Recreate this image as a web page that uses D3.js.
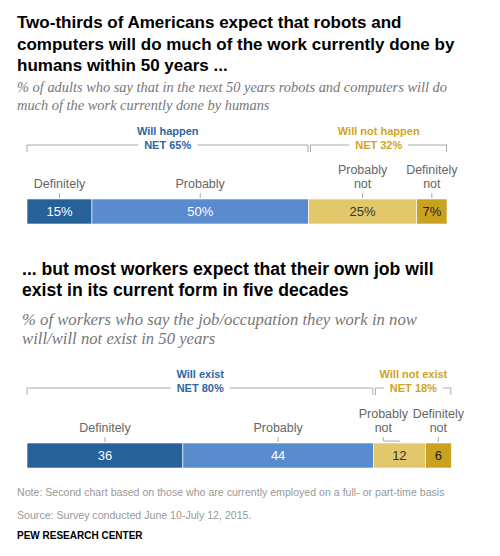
<!DOCTYPE html>
<html><head><meta charset="utf-8">
<script src="https://cdn.jsdelivr.net/npm/d3@7"></script>
<style>
body{margin:0;background:#fff;}
svg{display:block;}
</style></head>
<body><svg id="c" width="500" height="556"></svg>
<script>
// Data
const categories = ["Definitely", "Probably", "Probably not", "Definitely not"];
const chart1Values = [15, 50, 25, 7];
const chart2Values = [36, 44, 12, 6];
const chart1Nets = [{label: "Will happen", net: "NET 65%"}, {label: "Will not happen", net: "NET 32%"}];
const chart2Nets = [{label: "Will exist", net: "NET 80%"}, {label: "Will not exist", net: "NET 18%"}];
const chart1Fmt = v => v + "%";
const chart2Fmt = v => String(v);

const colors = ["#266199", "#5b8bcf", "#e2c86a", "#c9a21f"];
const labelColors = ["#fff", "#fff", "#333", "#222"];
const netColors = ["#2d66a5", "#cfa41e"];

const svg = d3.select("#c");
const sans = "'Liberation Sans', Arial, sans-serif";
const serif = "'Liberation Serif', 'Times New Roman', serif";

const x = d3.scaleLinear().domain([0, 100]).range([27, 460]);

function lines(g, arr, xpos, y0, lh, attrs) {
  arr.forEach((t, i) => {
    const tx = g.append("text").attr("x", xpos).attr("y", y0 + i * lh).text(t);
    for (const k in attrs) tx.attr(k, attrs[k]);
  });
}

// Titles
lines(svg, ["Two-thirds of Americans expect that robots and",
  "computers will do much of the work currently done by",
  "humans within 50 years ..."], 17, 28, 21.5,
  {"font-family": sans, "font-weight": "bold", "font-size": "17px", "fill": "#000"});
lines(svg, ["% of adults who say that in the next 50 years robots and computers will do",
  "much of the work currently done by humans"], 17, 92, 18,
  {"font-family": serif, "font-style": "italic", "font-size": "14.4px", "fill": "#777"});
lines(svg, ["... but most workers expect that their own job will",
  "exist in its current form in five decades"], 22, 275, 20.5,
  {"font-family": sans, "font-weight": "bold", "font-size": "17.6px", "fill": "#000"});
lines(svg, ["% of workers who say the job/occupation they work in now",
  "will/will not exist in 50 years"], 22, 325, 19,
  {"font-family": serif, "font-style": "italic", "font-size": "16.7px", "fill": "#777"});

function drawChart(values, nets, fmt, barY, barH, bracketY, netY, catY, gapBreak) {
  const g = svg.append("g");
  const cum = d3.cumsum(values);
  const segs = values.map((v, i) => ({v, i, x0: x(cum[i] - v), x1: x(cum[i])}));
  // bars
  g.selectAll("rect.bar").data(segs).enter().append("rect")
    .attr("x", d => d.x0).attr("y", barY)
    .attr("width", d => d.x1 - d.x0).attr("height", barH)
    .attr("fill", d => colors[d.i]).attr("stroke", "#fff").attr("stroke-width", 0.6);
  g.selectAll("text.val").data(segs).enter().append("text")
    .attr("x", d => (d.x0 + d.x1) / 2).attr("y", barY + barH / 2 + 4.5)
    .attr("text-anchor", "middle").attr("font-family", sans).attr("font-size", "13px")
    .attr("fill", d => labelColors[d.i]).text(d => fmt(d.v));
  // brackets
  const groups = [[segs[0].x0, segs[1].x1], [segs[2].x0 + 2, segs[3].x1]];
  groups.forEach((gr, k) => {
    const [a, b] = gr;
    const c = (a + b) / 2;
    g.append("text").attr("x", c).attr("y", netY - 14)
      .attr("text-anchor", "middle").attr("font-family", sans).attr("font-weight", "bold")
      .attr("font-size", "11px").attr("fill", netColors[k]).text(nets[k].label);
    const net = g.append("text").attr("x", c).attr("y", netY)
      .attr("text-anchor", "middle").attr("font-family", sans).attr("font-weight", "bold")
      .attr("font-size", "11px").attr("fill", netColors[k]).text(nets[k].net);
    const w = net.node().getComputedTextLength();
    const gap = w / 2 + 6;
    const path = `M${a},${bracketY + 7}V${bracketY}H${c - gap}M${c + gap},${bracketY}H${b - 0.5}V${bracketY + 7}`;
    g.append("path").attr("d", path).attr("fill", "none").attr("stroke", "#aaa").attr("stroke-width", 1);
  });
  // category labels
  segs.forEach((d, i) => {
    const cx = (d.x0 + d.x1) / 2;
    const words = categories[i].split(" ");
    let lx = cx;
    if (gapBreak && i === 2) lx = cx - 16;
    const attrs = {"text-anchor": "middle", "font-family": sans, "font-size": "12.5px", "fill": "#666"};
    if (words.length === 1) {
      lines(g, [words[0]], lx, catY, 0, attrs);
    } else {
      lines(g, words, lx, catY - 14.5, 14.5, attrs);
    }
    let p;
    if (lx !== cx) {
      p = `M${lx},${catY + 5}V${catY + 9}H${cx}V${barY - 1}`;
    } else {
      p = `M${cx},${catY + 5}V${barY - 1}`;
    }
    g.append("path").attr("d", p).attr("fill", "none").attr("stroke", "#aaa").attr("stroke-width", 1);
  });
}

drawChart(chart1Values, chart1Nets, chart1Fmt, 199, 25, 145, 149, 188, false);
drawChart(chart2Values, chart2Nets, chart2Fmt, 443, 25, 388, 392, 432, true);

// Notes
svg.append("text").attr("x", 17).attr("y", 496).attr("font-family", sans).attr("font-size", "10.6px")
  .attr("fill", "#999").text("Note: Second chart based on those who are currently employed on a full- or part-time basis");
svg.append("text").attr("x", 17).attr("y", 519).attr("font-family", sans).attr("font-size", "10.6px")
  .attr("fill", "#999").text("Source: Survey conducted June 10-July 12, 2015.");
svg.append("text").attr("x", 17).attr("y", 539).attr("font-family", sans).attr("font-size", "10px")
  .attr("font-weight", "bold").attr("fill", "#000").text("PEW RESEARCH CENTER");
</script></body></html>
